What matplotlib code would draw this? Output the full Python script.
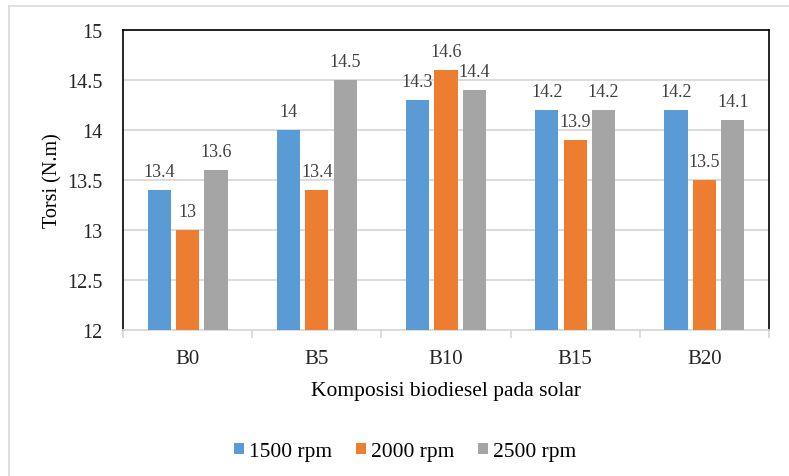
import matplotlib.pyplot as plt
from matplotlib.lines import Line2D
import numpy as np

plt.rcParams['font.family'] = ['Liberation Serif', 'DejaVu Serif']

# Data
kategori = ['B0', 'B5', 'B10', 'B15', 'B20']
rpm_1500 = [13.4, 14.0, 14.3, 14.2, 14.2]
rpm_2000 = [13.0, 13.4, 14.6, 13.9, 13.5]
rpm_2500 = [13.6, 14.5, 14.4, 14.2, 14.1]
label_1500 = ['13.4', '14', '14.3', '14.2', '14.2']
label_2000 = ['13', '13.4', '14.6', '13.9', '13.5']
label_2500 = ['13.6', '14.5', '14.4', '14.2', '14.1']

fig = plt.figure(figsize=(7.89, 4.77), dpi=100)
ax = fig.add_axes([0.1559, 0.3061, 0.8188, 0.629])

x = np.arange(len(kategori))
w = 0.18
step = 0.22
series = [
    (rpm_1500, label_1500, '#5B9BD5', '1500 rpm'),
    (rpm_2000, label_2000, '#ED7D31', '2000 rpm'),
    (rpm_2500, label_2500, '#A5A5A5', '2500 rpm'),
]
for i, (vals, labs, col, name) in enumerate(series):
    bars = ax.bar(x + (i - 1) * step, np.array(vals) - 12, width=w, bottom=12,
                  color=col, label=name, zorder=3)
    for b, t in zip(bars, labs):
        ax.annotate(t, (b.get_x() + b.get_width() / 2, b.get_y() + b.get_height()),
                    xytext=(0, 7), textcoords='offset points',
                    ha='center', va='bottom', fontsize=13, color='#404040')

ax.set_xlim(-0.5, 4.5)
ax.set_ylim(12, 15)
ax.set_yticks(np.arange(12, 15.01, 0.5))
ax.set_yticklabels(['12', '12.5', '13', '13.5', '14', '14.5', '15'])
ax.set_xticks(x)
ax.set_xticklabels(kategori)
ax.set_xticks(np.arange(-0.5, 4.6, 1), minor=True)
ax.tick_params(axis='x', which='major', length=0, labelsize=15, pad=14, colors='#262626')
ax.tick_params(axis='x', which='minor', length=6, color='#D9D9D9', width=1.3)
ax.tick_params(axis='y', length=0, labelsize=14.5, pad=15, colors='#262626')
ax.yaxis.grid(True, color='#D9D9D9', linewidth=1.3, zorder=0)

for s in ['left', 'top', 'right']:
    ax.spines[s].set_color('black')
    ax.spines[s].set_linewidth(1.2)
ax.spines['bottom'].set_color('#D9D9D9')
ax.spines['bottom'].set_linewidth(1.3)

ax.set_xlabel('Komposisi biodiesel pada solar', fontsize=15.5, labelpad=9)
ax.set_ylabel('Torsi (N.m)', fontsize=14.5, labelpad=3)

ax.legend(loc='center', bbox_to_anchor=(0.437, -0.405), ncol=3, frameon=False,
          fontsize=15.5, handlelength=0.45, handleheight=0.45, handletextpad=0.25,
          columnspacing=1.1)

# outer chart frame
fig.add_artist(Line2D([9 / 789, 1], [1 - 7 / 477, 1 - 7 / 477], color='#D9D9D9', lw=1.2))
fig.add_artist(Line2D([9 / 789, 9 / 789], [0, 1 - 7 / 477], color='#D9D9D9', lw=1.2))

fig.savefig('out.png', dpi=100)
